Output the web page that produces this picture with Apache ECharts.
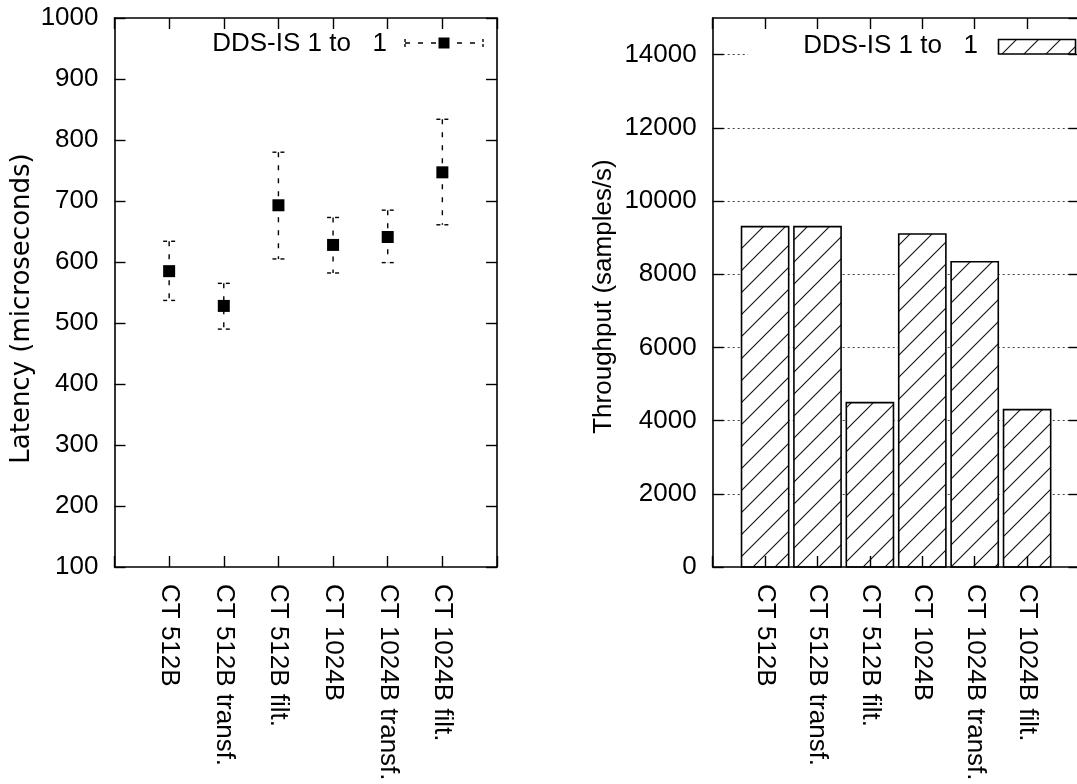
<!DOCTYPE html>
<html>
<head>
<meta charset="utf-8">
<title>DDS-IS latency and throughput</title>
<script src="https://cdn.jsdelivr.net/npm/echarts@6/dist/echarts.min.js"></script>
<style>
  html, body { margin: 0; padding: 0; background: #fff; }
  #chart { width: 1077px; height: 784px; }
</style>
</head>
<body>
<div id="chart"></div>
<script>
// Test cases, shared by both panels
const categories = ['CT 512B', 'CT 512B transf.', 'CT 512B filt.', 'CT 1024B', 'CT 1024B transf.', 'CT 1024B filt.'];
// Latency (microseconds): mean with min/max range
const latencyMean = [585, 528, 693, 628, 641, 747];
const latencyLow  = [537, 490, 605, 582, 599, 661];
const latencyHigh = [634, 565, 780, 673, 685, 834];
// Throughput (samples/s)
const throughput = [9300, 9300, 4490, 9100, 8340, 4300];
const seriesName = 'DDS-IS 1 to   1';

const FONT = '"Liberation Sans", Arial, Helvetica, sans-serif';
const TITLE_FONT_LEFT = '"DejaVu Sans", "Liberation Sans", sans-serif';
const FS = 26;
const INK = '#000';

// Diagonal hatch pattern for the throughput bars
function makeHatch(size) {
  const c = document.createElement('canvas');
  c.width = size; c.height = size;
  const g = c.getContext('2d');
  g.fillStyle = '#fff';
  g.fillRect(0, 0, size, size);
  g.strokeStyle = '#111';
  g.lineWidth = 1.1;
  g.beginPath();
  g.moveTo(-2, 2); g.lineTo(2, -2);
  g.moveTo(0, size); g.lineTo(size, 0);
  g.moveTo(size - 2, size + 2); g.lineTo(size + 2, size - 2);
  g.stroke();
  return { image: c, repeat: 'repeat' };
}
const hatch = makeHatch(22);

const labelFor = v => categories[v - 1] || '';
const plainNumber = v => String(v);

function valueAxisBase(extra) {
  return Object.assign({
    type: 'value',
    axisLine: { show: true, onZero: false, lineStyle: { color: INK, width: 1.6 } },
    axisTick: { show: true, inside: true, length: 11, lineStyle: { color: INK, width: 1.4 } },
    splitLine: { show: false },
    axisLabel: { show: false }
  }, extra);
}

function catXAxis(gridIndex, position, withLabels) {
  return valueAxisBase({
    gridIndex, position, min: 0, max: 7, interval: 1, z: 5,
    axisLabel: withLabels ? {
      show: true, rotate: -90, margin: 17, color: INK, fontSize: FS, fontFamily: FONT,
      formatter: labelFor
    } : { show: false }
  });
}

function renderErrorBar(params, api) {
  const x = api.value(0);
  const lo = api.coord([x, api.value(1)]);
  const hi = api.coord([x, api.value(2)]);
  const half = 6;
  const base = { stroke: INK, lineWidth: 1.4, fill: null };
  return {
    type: 'group',
    children: [
      { type: 'line', shape: { x1: hi[0], y1: hi[1], x2: lo[0], y2: lo[1] }, style: Object.assign({ lineDash: [5, 8] }, base) },
      { type: 'line', shape: { x1: hi[0] - half, y1: hi[1], x2: hi[0] + half, y2: hi[1] }, style: Object.assign({ lineDash: [4, 4] }, base) },
      { type: 'line', shape: { x1: lo[0] - half, y1: lo[1], x2: lo[0] + half, y2: lo[1] }, style: Object.assign({ lineDash: [4, 4] }, base) }
    ]
  };
}

function renderMean(params, api) {
  const p = api.coord([api.value(0), api.value(1)]);
  return { type: 'rect', shape: { x: p[0] - 6, y: p[1] - 6, width: 12, height: 12 }, style: { fill: INK } };
}

function renderBar(params, api) {
  const x = api.value(0);
  const topLeft = api.coord([x - 0.45, api.value(1)]);
  const botRight = api.coord([x + 0.45, 0]);
  return {
    type: 'rect',
    shape: { x: topLeft[0], y: topLeft[1], width: botRight[0] - topLeft[0], height: botRight[1] - topLeft[1] },
    style: { fill: hatch, stroke: INK, lineWidth: 1.6 }
  };
}

const chart = echarts.init(document.getElementById('chart'), null, { renderer: 'canvas' });

chart.setOption({
  backgroundColor: '#fff',
  animation: false,
  textStyle: { fontFamily: FONT, color: INK },
  grid: [
    { left: 114.5, top: 18, width: 382.5, height: 549, containLabel: false, outerBoundsMode: 'none' },
    { left: 712.7, top: 18, width: 366.8, height: 549, containLabel: false, outerBoundsMode: 'none' }
  ],
  xAxis: [
    catXAxis(0, 'bottom', true),
    catXAxis(0, 'top', false),
    catXAxis(1, 'bottom', true),
    catXAxis(1, 'top', false)
  ],
  yAxis: [
    valueAxisBase({
      gridIndex: 0, position: 'left', min: 100, max: 1000, interval: 100, z: 5,
      axisLabel: { show: true, margin: 16, color: INK, fontSize: FS, fontFamily: FONT, formatter: plainNumber },
      name: 'Latency (microseconds)', nameLocation: 'middle', nameGap: 79,
      nameTextStyle: { color: INK, fontSize: FS, fontFamily: TITLE_FONT_LEFT, padding: [0, 32, 0, 0] }
    }),
    valueAxisBase({ gridIndex: 0, position: 'right', min: 100, max: 1000, interval: 100, z: 5 }),
    valueAxisBase({
      gridIndex: 1, position: 'left', min: 0, max: 15000, interval: 2000, z: 0,
      axisLabel: { show: true, margin: 16, color: INK, fontSize: FS, fontFamily: FONT, showMaxLabel: false, formatter: plainNumber },
      splitLine: { show: true, showMinLine: false, showMaxLine: false, lineStyle: { color: '#444', width: 1, type: [2, 3] } },
      name: 'Throughput (samples/s)', nameLocation: 'middle', nameGap: 96,
      nameTextStyle: { color: INK, fontSize: FS, fontFamily: FONT, padding: [0, 8, 0, 0] }
    }),
    valueAxisBase({ gridIndex: 1, position: 'right', min: 0, max: 15000, interval: 2000, z: 5 })
  ],
  series: [
    {
      name: seriesName,
      type: 'custom',
      xAxisIndex: 0, yAxisIndex: 0,
      renderItem: renderErrorBar,
      encode: { x: 0, y: [1, 2] },
      data: categories.map((c, i) => [i + 1, latencyLow[i], latencyHigh[i]]),
      z: 2, silent: true
    },
    {
      name: seriesName,
      type: 'custom',
      xAxisIndex: 0, yAxisIndex: 0,
      renderItem: renderMean,
      encode: { x: 0, y: 1 },
      data: categories.map((c, i) => [i + 1, latencyMean[i]]),
      z: 3, silent: true
    },
    {
      name: seriesName,
      type: 'custom',
      xAxisIndex: 2, yAxisIndex: 2,
      renderItem: renderBar,
      encode: { x: 0, y: 1 },
      data: categories.map((c, i) => [i + 1, throughput[i]]),
      z: 2, silent: true
    }
  ],
  graphic: [
    // Key of the latency panel: label and an error-bar sample
    { type: 'text', x: 387, y: 43.5, z: 10,
      style: { text: seriesName, fill: INK, font: FS + 'px ' + FONT, align: 'right', verticalAlign: 'middle' } },
    { type: 'line', z: 10, shape: { x1: 405, y1: 43, x2: 483, y2: 43 },
      style: { stroke: INK, lineWidth: 1.4, lineDash: [5, 8] } },
    { type: 'line', z: 10, shape: { x1: 405, y1: 39, x2: 405, y2: 47 },
      style: { stroke: INK, lineWidth: 1.4, lineDash: [3, 2] } },
    { type: 'line', z: 10, shape: { x1: 483, y1: 39, x2: 483, y2: 47 },
      style: { stroke: INK, lineWidth: 1.4, lineDash: [3, 2] } },
    { type: 'rect', z: 10, shape: { x: 438.5, y: 37.5, width: 11, height: 11 }, style: { fill: INK } },
    // Key of the throughput panel: opaque box, label and a hatched sample
    { type: 'rect', z: 1, shape: { x: 748, y: 32, width: 340, height: 28 }, style: { fill: '#fff' } },
    { type: 'text', x: 978, y: 46.3, z: 10,
      style: { text: seriesName, fill: INK, font: FS + 'px ' + FONT, align: 'right', verticalAlign: 'middle' } },
    { type: 'rect', z: 3, shape: { x: 998.5, y: 39.5, width: 77, height: 14.5 },
      style: { fill: hatch, stroke: INK, lineWidth: 1.6 } }
  ]
});
</script>
</body>
</html>
